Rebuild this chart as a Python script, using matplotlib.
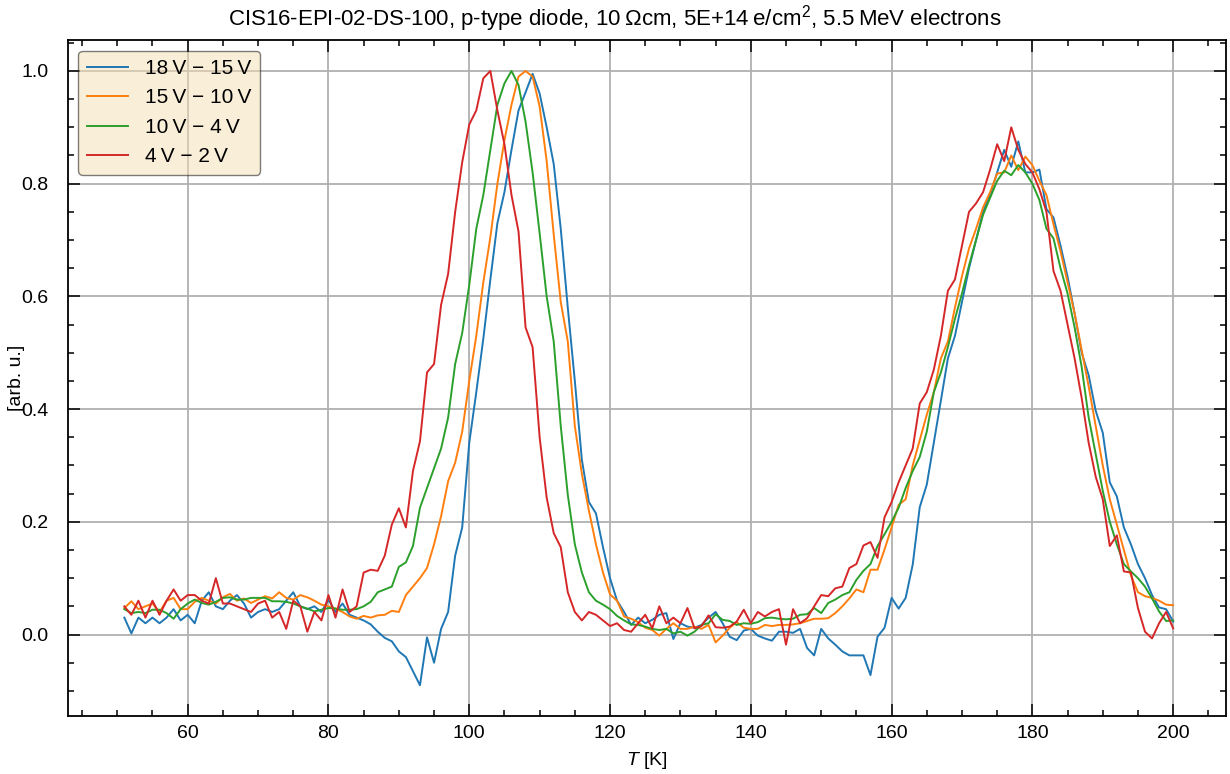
"""Spektren nach Spannungsdifferenz, CIS16-EPI-02-DS-100 (p-Typ Diode)."""
import numpy as np
import matplotlib
matplotlib.use("Agg")
import matplotlib.pyplot as plt
from matplotlib.ticker import MultipleLocator

plt.rcParams["font.family"] = ["Liberation Sans", "DejaVu Sans"]
plt.rcParams["mathtext.fontset"] = "custom"
plt.rcParams["mathtext.rm"] = "Liberation Sans"
plt.rcParams["mathtext.it"] = "Liberation Sans:italic"

TITLE = ("CIS16-EPI-02-DS-100, p-type diode, 10\u2009\u03a9cm, "
         "5E+14\u2009e/cm$^2$, 5.5\u2009MeV electrons")
LABELS = ["18\u2009V \u2212 15\u2009V", "15\u2009V \u2212 10\u2009V",
          "10\u2009V \u2212 4\u2009V", "4\u2009V \u2212 2\u2009V"]
COLORS = ["#1f77b4", "#ff7f0e", "#2ca02c", "#d62728"]

# Temperatur in K, 51 ... 200
T = np.arange(51, 201)

s_18_15 = [
    0.030, 0.002, 0.030, 0.020, 0.030, 0.020, 0.030, 0.045, 0.025, 0.035,
    0.020, 0.060, 0.075, 0.050, 0.045, 0.060, 0.070, 0.055, 0.030, 0.040,
    0.045, 0.040, 0.045, 0.060, 0.075, 0.050, 0.045, 0.050, 0.040, 0.062,
    0.040, 0.055, 0.035, 0.030, 0.025, 0.018, 0.005, -0.006, -0.012, -0.030,
    -0.040, -0.065, -0.090, -0.005, -0.050, 0.010, 0.040, 0.140, 0.190, 0.340,
    0.430, 0.525, 0.630, 0.730, 0.785, 0.860, 0.930, 0.962, 0.995, 0.960,
    0.900, 0.835, 0.720, 0.580, 0.450, 0.310, 0.235, 0.215, 0.155, 0.100,
    0.060, 0.040, 0.017, 0.030, 0.020, 0.026, 0.035, 0.038, -0.008, 0.020,
    0.014, 0.012, 0.017, 0.030, 0.040, 0.020, -0.004, -0.010, 0.007, 0.010,
    -0.002, -0.007, -0.011, 0.005, 0.005, 0.003, 0.010, -0.024, -0.037, 0.010,
    -0.007, -0.018, -0.030, -0.037, -0.037, -0.037, -0.072, -0.004, 0.012, 0.065,
    0.046, 0.065, 0.124, 0.226, 0.266, 0.340, 0.415, 0.490, 0.530, 0.590,
    0.650, 0.700, 0.750, 0.780, 0.820, 0.860, 0.830, 0.875, 0.820, 0.820,
    0.825, 0.755, 0.740, 0.690, 0.635, 0.570, 0.500, 0.460, 0.397, 0.358,
    0.270, 0.245, 0.190, 0.160, 0.125, 0.100, 0.070, 0.048, 0.045, 0.023,
]

s_15_10 = [
    0.047, 0.059, 0.045, 0.050, 0.055, 0.040, 0.060, 0.065, 0.045, 0.045,
    0.058, 0.065, 0.060, 0.055, 0.066, 0.072, 0.060, 0.064, 0.056, 0.062,
    0.068, 0.064, 0.075, 0.065, 0.062, 0.070, 0.066, 0.060, 0.053, 0.050,
    0.046, 0.040, 0.032, 0.028, 0.033, 0.030, 0.034, 0.035, 0.042, 0.040,
    0.070, 0.085, 0.100, 0.118, 0.160, 0.210, 0.272, 0.305, 0.360, 0.450,
    0.530, 0.625, 0.705, 0.800, 0.877, 0.940, 0.990, 1.000, 0.990, 0.937,
    0.840, 0.710, 0.590, 0.520, 0.370, 0.285, 0.220, 0.160, 0.110, 0.071,
    0.060, 0.032, 0.028, 0.022, 0.012, 0.008, -0.002, 0.010, 0.020, 0.010,
    0.010, 0.014, 0.010, 0.017, -0.014, -0.002, 0.012, 0.022, 0.012, 0.010,
    0.010, 0.017, 0.015, 0.017, 0.017, 0.018, 0.020, 0.024, 0.028, 0.028,
    0.029, 0.038, 0.050, 0.064, 0.080, 0.075, 0.115, 0.115, 0.151, 0.190,
    0.230, 0.240, 0.300, 0.345, 0.390, 0.430, 0.490, 0.520, 0.580, 0.636,
    0.685, 0.720, 0.758, 0.785, 0.818, 0.820, 0.850, 0.824, 0.848, 0.833,
    0.805, 0.780, 0.728, 0.680, 0.625, 0.570, 0.505, 0.440, 0.370, 0.300,
    0.240, 0.195, 0.150, 0.105, 0.075, 0.068, 0.065, 0.060, 0.053, 0.052,
]

s_10_4 = [
    0.045, 0.038, 0.040, 0.038, 0.044, 0.044, 0.038, 0.028, 0.045, 0.055,
    0.062, 0.056, 0.053, 0.058, 0.065, 0.066, 0.062, 0.062, 0.065, 0.065,
    0.065, 0.059, 0.059, 0.058, 0.055, 0.050, 0.046, 0.041, 0.044, 0.047,
    0.046, 0.044, 0.044, 0.045, 0.050, 0.058, 0.075, 0.080, 0.085, 0.120,
    0.128, 0.157, 0.225, 0.260, 0.295, 0.330, 0.385, 0.480, 0.535, 0.620,
    0.720, 0.780, 0.860, 0.940, 0.978, 1.000, 0.975, 0.910, 0.820, 0.712,
    0.600, 0.520, 0.370, 0.248, 0.160, 0.110, 0.075, 0.060, 0.053, 0.045,
    0.033, 0.025, 0.018, 0.017, 0.014, 0.010, 0.008, 0.010, 0.002, 0.005,
    -0.002, 0.005, 0.017, 0.020, 0.036, 0.026, 0.024, 0.017, 0.020, 0.019,
    0.022, 0.029, 0.030, 0.028, 0.027, 0.028, 0.035, 0.036, 0.047, 0.038,
    0.056, 0.062, 0.070, 0.075, 0.097, 0.113, 0.125, 0.157, 0.178, 0.200,
    0.225, 0.260, 0.290, 0.315, 0.360, 0.430, 0.465, 0.510, 0.560, 0.605,
    0.655, 0.700, 0.745, 0.775, 0.805, 0.823, 0.815, 0.833, 0.820, 0.800,
    0.771, 0.720, 0.703, 0.650, 0.605, 0.545, 0.475, 0.385, 0.320, 0.255,
    0.200, 0.160, 0.125, 0.112, 0.100, 0.085, 0.064, 0.041, 0.024, 0.025,
]

s_4_2 = [
    0.050, 0.035, 0.060, 0.030, 0.060, 0.035, 0.060, 0.080, 0.060, 0.070,
    0.070, 0.060, 0.055, 0.100, 0.055, 0.055, 0.050, 0.045, 0.040, 0.055,
    0.060, 0.030, 0.040, 0.010, 0.060, 0.050, 0.005, 0.040, 0.025, 0.070,
    0.030, 0.080, 0.040, 0.050, 0.110, 0.115, 0.113, 0.140, 0.195, 0.224,
    0.190, 0.290, 0.343, 0.465, 0.480, 0.585, 0.640, 0.750, 0.838, 0.905,
    0.930, 0.987, 1.000, 0.930, 0.870, 0.780, 0.715, 0.545, 0.510, 0.350,
    0.243, 0.180, 0.155, 0.075, 0.040, 0.025, 0.040, 0.035, 0.025, 0.015,
    0.020, 0.008, 0.005, 0.020, 0.035, 0.011, 0.050, 0.020, 0.030, 0.020,
    0.047, 0.011, 0.015, 0.034, 0.013, 0.012, 0.014, 0.023, 0.044, 0.020,
    0.040, 0.032, 0.040, 0.045, -0.018, 0.045, 0.020, 0.029, 0.050, 0.070,
    0.068, 0.082, 0.085, 0.118, 0.125, 0.158, 0.164, 0.136, 0.208, 0.235,
    0.270, 0.300, 0.330, 0.410, 0.430, 0.470, 0.530, 0.610, 0.630, 0.690,
    0.750, 0.765, 0.785, 0.825, 0.870, 0.840, 0.900, 0.860, 0.835, 0.820,
    0.790, 0.750, 0.645, 0.610, 0.550, 0.490, 0.420, 0.340, 0.280, 0.240,
    0.157, 0.176, 0.112, 0.110, 0.047, 0.005, -0.007, 0.020, 0.040, 0.011,
]

SERIES = [s_18_15, s_15_10, s_10_4, s_4_2]


def main():
    fig = plt.figure(figsize=(12.3, 7.74), dpi=100)
    ax = fig.add_axes([0.0553, 0.075, 0.9414, 0.873])

    for y, lab, col in zip(SERIES, LABELS, COLORS):
        ax.plot(T, y, color=col, lw=1.4, label=lab)

    ax.set_xlim(43.0, 207.5)
    ax.set_ylim(-0.1445, 1.0545)
    ax.xaxis.set_major_locator(MultipleLocator(20))
    ax.xaxis.set_minor_locator(MultipleLocator(5))
    ax.yaxis.set_major_locator(MultipleLocator(0.2))
    ax.yaxis.set_minor_locator(MultipleLocator(0.05))
    ax.tick_params(which="both", direction="in", top=True, right=True,
                   labelsize=14, width=1.1)
    ax.tick_params(which="major", length=8.5)
    ax.tick_params(which="minor", length=4)
    ax.tick_params(axis="x", pad=6.5)
    ax.tick_params(axis="y", pad=14)
    for sp in ax.spines.values():
        sp.set_linewidth(1.3)
    ax.grid(True, which="major", color="#b0b0b0", lw=1.3)

    # Titel ueber die ganze Figur zentriert
    fig.text(0.5, 1 - 25 / 774, TITLE, fontsize=16, ha="center", va="baseline")
    ax.set_xlabel("$T$ [K]", fontsize=14, labelpad=6)
    ax.set_ylabel("[arb. u.]", fontsize=14, labelpad=-3)
    ax.legend(loc="upper left", fontsize=15, fancybox=True, framealpha=0.5,
              facecolor="wheat", edgecolor="black", handlelength=2.0)

    fig.savefig("out.png", dpi=100)


if __name__ == "__main__":
    main()
